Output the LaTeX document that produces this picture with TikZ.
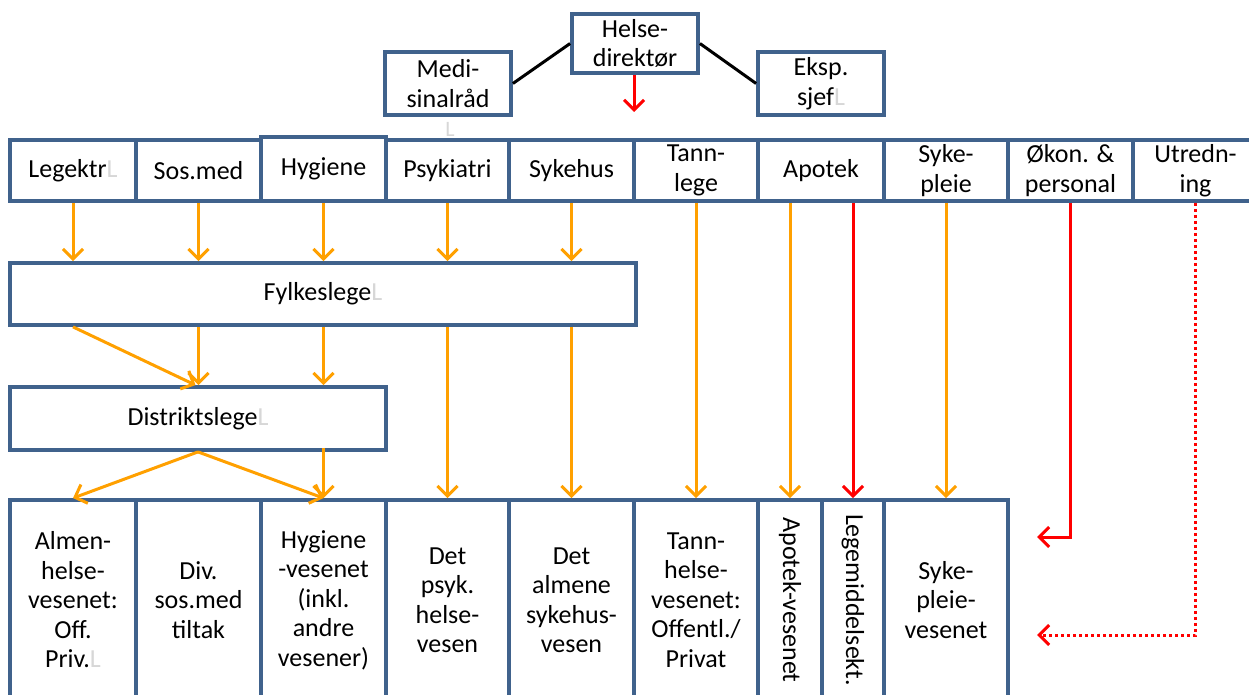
\documentclass[tikz,border=0pt]{standalone}
\usepackage{fontspec}
\setmainfont{Carlito}
\usetikzlibrary{arrows.meta}
\definecolor{boxblue}{RGB}{64,98,140}
\definecolor{arrorange}{RGB}{255,160,0}
\definecolor{ghost}{RGB}{215,215,215}
\newcommand{\ghostL}{\textcolor{ghost}{L}}
\begin{document}
\begin{tikzpicture}[x=1pt,y=-1pt,
  box/.style={draw=boxblue,line width=3.8pt,fill=white,align=center,inner sep=0pt,
    font=\fontsize{26}{29.5}\selectfont},
  oarr/.style={draw=arrorange,line width=3pt,-{Straight Barb[length=10pt,width=20pt]}},
  rarr/.style={draw=red,line width=3pt,-{Straight Barb[length=10pt,width=20pt]}},
  link/.style={draw=black,line width=3pt}]
\useasboundingbox (0,0) rectangle (1249,695);
% top management
\node[box,minimum width=126pt,minimum height=59pt] (helse) at (635,43.5) {Helse-\\direktør};
\node[box,minimum width=126pt,minimum height=63pt] (medi) at (448,83.5) {Medi-\\sinalråd};
\node[box,minimum width=126pt,minimum height=63pt] (eksp) at (821,83.5) {Eksp.\\sjef\ghostL};
\node[text=ghost,font=\fontsize{22}{26}\selectfont,inner sep=0pt] (ghostmedi) at (450,129) {L};
% top row
\node[box,minimum width=126pt,minimum height=61pt] (legektr) at (73,170.5) {Legektr\ghostL};
\node[box,minimum width=125pt,minimum height=61pt] (sosmed) at (198.5,170.5) {Sos.med};
\node[box,minimum width=125pt,minimum height=64pt] (hyg) at (323.5,169) {Hygiene};
\node[box,minimum width=123pt,minimum height=61pt] (psyk) at (447.5,170.5) {Psykiatri};
\node[box,minimum width=125pt,minimum height=61pt] (sykehus) at (571.5,170.5) {Sykehus};
\node[box,minimum width=124pt,minimum height=61pt] (tann) at (696,170.5) {Tann-\\lege};
\node[box,minimum width=126pt,minimum height=61pt] (apotek) at (821,170.5) {Apotek};
\node[box,minimum width=124pt,minimum height=61pt] (syke) at (946,170.5) {Syke-\\pleie};
\node[box,minimum width=125pt,minimum height=61pt] (okon) at (1070.5,170.5) {Økon. \&\\personal};
\node[box,minimum width=125pt,minimum height=61pt] (utred) at (1195.5,170.5) {Utredn-\\ing};
% middle
\node[box,minimum width=626pt,minimum height=62pt] (fylke) at (323,294) {Fylkeslege\ghostL};
\node[box,minimum width=376pt,minimum height=63pt] (distr) at (198,418.5) {Distriktslege\ghostL};
% bottom row
\node[box,minimum width=126pt,minimum height=200pt] (balmen) at (73,600) {Almen-\\helse-\\vesenet:\\Off.\\Priv.\ghostL};
\node[box,minimum width=125pt,minimum height=200pt] (bdiv) at (198.5,600) {Div.\\sos.med\\tiltak};
\node[box,minimum width=125pt,minimum height=200pt] (bhyg) at (323.5,600) {Hygiene\\-vesenet\\(inkl.\\andre\\vesener)};
\node[box,minimum width=123pt,minimum height=200pt] (bpsyk) at (447.5,600) {Det\\psyk.\\helse-\\vesen};
\node[box,minimum width=125pt,minimum height=200pt] (bsykehus) at (571.5,600) {Det\\almene\\sykehus-\\vesen};
\node[box,minimum width=124pt,minimum height=200pt] (btann) at (696,600) {Tann-\\helse-\\vesenet:\\Offentl./\\Privat};
\node[box,rotate=-90,minimum width=200pt,minimum height=64pt] (apv) at (790,600) {Apotek-vesenet};
\node[box,rotate=-90,minimum width=200pt,minimum height=62pt] (lms) at (853,600) {Legemiddelsekt.};
\node[box,minimum width=124pt,minimum height=200pt] (bsyke) at (946,600) {Syke-\\pleie-\\vesenet};
% top connectors
\draw[link] (helse.west) -- (medi.east);
\draw[link] (helse.east) -- (eksp.west);
\coordinate (helsearr) at (634,112);
\draw[rarr] ([xshift=-1pt]helse.south) -- (helsearr);
% top row -> Fylkeslege
\draw[oarr] (legektr.south) -- (legektr.south |- fylke.north);
\draw[oarr] (sosmed.south) -- (sosmed.south |- fylke.north);
\draw[oarr] (hyg.south) -- (hyg.south |- fylke.north);
\draw[oarr] (psyk.south) -- (psyk.south |- fylke.north);
\draw[oarr] (sykehus.south) -- (sykehus.south |- fylke.north);
% Fylkeslege -> Distriktslege / bottom
\draw[oarr] (legektr.south |- fylke.south) -- ([xshift=-3pt]sosmed.south |- distr.north);
\draw[oarr] (sosmed.south |- fylke.south) -- (sosmed.south |- distr.north);
\draw[oarr] (hyg.south |- fylke.south) -- (hyg.south |- distr.north);
\draw[oarr] (psyk.south |- fylke.south) -- (bpsyk.north);
\draw[oarr] (sykehus.south |- fylke.south) -- (bsykehus.north);
% Distriktslege -> bottom
\draw[oarr] (distr.south) -- (balmen.north);
\draw[oarr] (distr.south) -- (bhyg.north);
\draw[oarr] ([yshift=4pt]hyg.south |- distr.south) -- (bhyg.north);
% right columns
\draw[oarr] (tann.south) -- (btann.north);
\draw[oarr] (apv.west |- apotek.south) -- (apv.west);
\draw[rarr] (lms.west |- apotek.south) -- (lms.west);
\draw[oarr] (syke.south) -- (bsyke.north);
\coordinate (okend) at (1037,537);
\coordinate (utend) at (1037,635);
\draw[rarr] (okon.south) |- (okend);
\draw[rarr,dash pattern=on 3pt off 3pt] (utred.south) |- (utend);
\end{tikzpicture}
\end{document}
